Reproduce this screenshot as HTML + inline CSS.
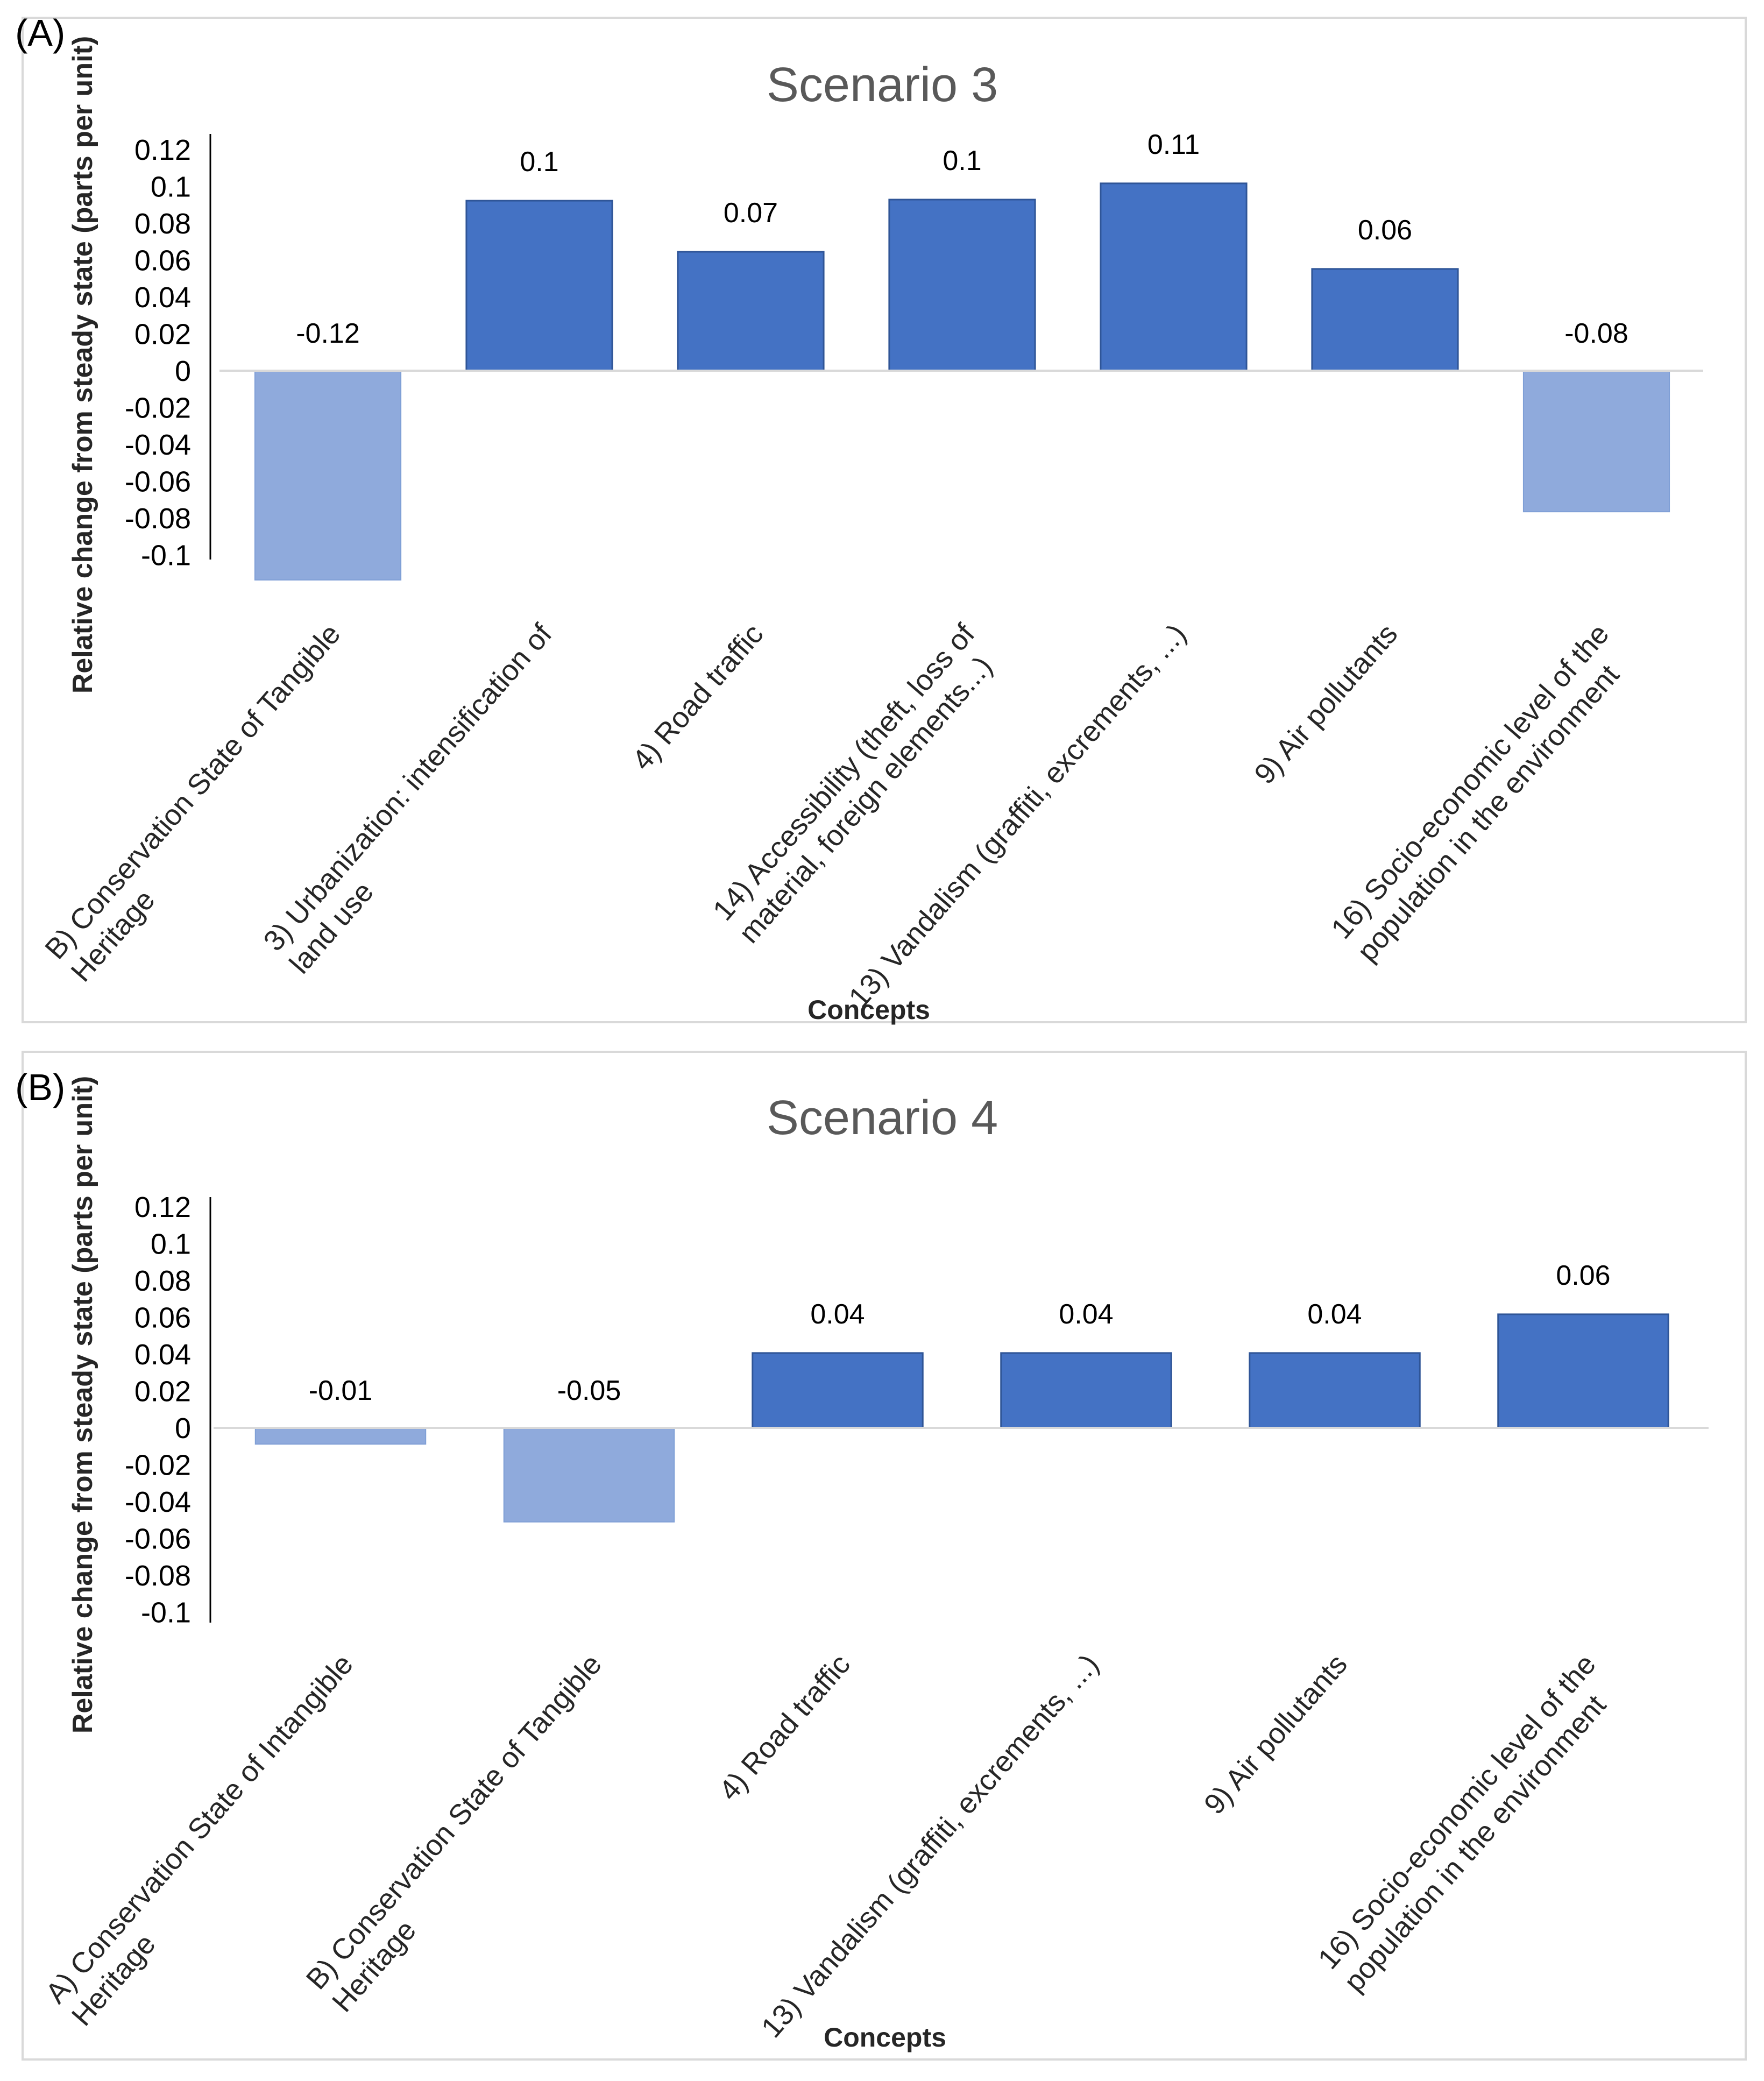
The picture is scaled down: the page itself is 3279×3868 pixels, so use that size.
<!DOCTYPE html>
<html><head><meta charset="utf-8"><style>
html,body{margin:0;padding:0;background:#fff;}
svg{display:block;font-family:"Liberation Sans",sans-serif;}
</style></head><body>
<svg id="fig" width="3279" height="3868" viewBox="0 0 3279 3868" xmlns="http://www.w3.org/2000/svg">
<rect x="42" y="33" width="3203" height="1867" fill="#fff" stroke="#d9d9d9" stroke-width="4"/>
<rect x="42" y="1955" width="3203" height="1873" fill="#fff" stroke="#d9d9d9" stroke-width="4"/>
<text x="28" y="85" font-size="70" fill="#000">(A)</text>
<text x="28" y="2045" font-size="70" fill="#000">(B)</text>
<text x="1640" y="188" font-size="90" fill="#595959" text-anchor="middle">Scenario 3</text>
<text x="1640" y="2108" font-size="90" fill="#595959" text-anchor="middle">Scenario 4</text>
<text transform="translate(171,678) rotate(-90)" font-size="52" font-weight="bold" fill="#262626" text-anchor="middle">Relative change from steady state (parts per unit)</text>
<text transform="translate(171,2611) rotate(-90)" font-size="52" font-weight="bold" fill="#262626" text-anchor="middle">Relative change from steady state (parts per unit)</text>
<text x="1615" y="1894" font-size="50" font-weight="bold" fill="#262626" text-anchor="middle">Concepts</text>
<text x="1645" y="3804" font-size="50" font-weight="bold" fill="#262626" text-anchor="middle">Concepts</text>
<g id="chartA"></g>
<g id="chartB"></g>
</svg>
<script>
const tickValues = [0.12,0.1,0.08,0.06,0.04,0.02,0,-0.02,-0.04,-0.06,-0.08,-0.1];
const tickLabels = ["0.12","0.1","0.08","0.06","0.04","0.02","0","-0.02","-0.04","-0.06","-0.08","-0.1"];
const catsA = [["B) Conservation State of Tangible","Heritage"],["3) Urbanization: intensification of","land use"],["4) Road traffic"],["14) Accessibility (theft, loss of","material, foreign elements...)"],["13) Vandalism (graffiti, excrements, ...)"],["9) Air pollutants"],["16) Socio-economic level of the","population in the environment"]];
const valuesA = [-0.1135,0.0922,0.0645,0.0928,0.1016,0.0552,-0.0765];
const labelsA = ["-0.12","0.1","0.07","0.1","0.11","0.06","-0.08"];
const catsB = [["A) Conservation State of Intangible","Heritage"],["B) Conservation State of Tangible","Heritage"],["4) Road traffic"],["13) Vandalism (graffiti, excrements, ...)"],["9) Air pollutants"],["16) Socio-economic level of the","population in the environment"]];
const valuesB = [-0.0088,-0.051,0.0406,0.0406,0.0406,0.0616];
const labelsB = ["-0.01","-0.05","0.04","0.04","0.04","0.06"];
const NS="http://www.w3.org/2000/svg";
function mk(tag,attrs,parent){const e=document.createElementNS(NS,tag);for(const k in attrs)e.setAttribute(k,attrs[k]);parent.appendChild(e);return e;}
function draw(g,cfg,cats,vals,labs,prefix){
  const y=v=>cfg.zero - v*cfg.scale;
  const slot=(cfg.right-cfg.left)/cats.length;
  const bw=slot*cfg.ratio;
  const ax=mk('line',{x1:cfg.axisX,x2:cfg.axisX,y1:cfg.axisTop,y2:cfg.axisBot,stroke:'#000','stroke-width':3},g);
  
  
  tickValues.forEach((t,i)=>{
    const tx=mk('text',{x:cfg.axisX-36,y:y(t)+19,'font-size':54,fill:'#000','text-anchor':'end'},g);
    tx.textContent=tickLabels[i];
    
    
  });
  vals.forEach((v,i)=>{
    const cx=cfg.left+slot*(i+0.5);
    const top=Math.min(y(v),cfg.zero), h=Math.abs(y(v)-cfg.zero);
    const r=mk('rect',{x:cx-bw/2,y:top,width:bw,height:h,fill:v<0?'#8faadc':'#4472c4',stroke:v<0?'#7f9fd6':'#2f5597','stroke-width':v<0?2:3},g);
    
    
    const ly = v>=0 ? y(v)-55 : cfg.zero-52;
    const t=mk('text',{x:cx,y:ly,'font-size':52,fill:'#000','text-anchor':'middle'},g);
    t.textContent=labs[i];
    
    
    const lg=mk('g',{transform:`translate(${cx+26},${cfg.catY}) rotate(-49)`},g);
    
    
    const l1=mk('text',{x:0,y:0,'font-size':54,fill:'#262626','text-anchor':'end'},lg);
    l1.textContent=cats[i][0];
    const w=l1.getComputedTextLength();
    for(let k=1;k<cats[i].length;k++){
      const l2=mk('text',{x:-w,y:64*k,'font-size':54,fill:'#262626','text-anchor':'start'},lg);
      l2.textContent=cats[i][k];
    }
  });
  const zl=mk('line',{x1:cfg.left-5,x2:cfg.right+2,y1:cfg.zero,y2:cfg.zero,stroke:'#d9d9d9','stroke-width':4},g);
  
  
}
draw(document.getElementById('chartA'),{zero:689,scale:3427,left:413,right:3164,ratio:0.69,axisX:391,axisTop:249,axisBot:1040,catY:1180},catsA,valuesA,labelsA,'panel-a');
draw(document.getElementById('chartB'),{zero:2654,scale:3427,left:402,right:3174,ratio:0.685,axisX:391,axisTop:2225,axisBot:3016,catY:3095},catsB,valuesB,labelsB,'panel-b');
</script>
</body></html>
